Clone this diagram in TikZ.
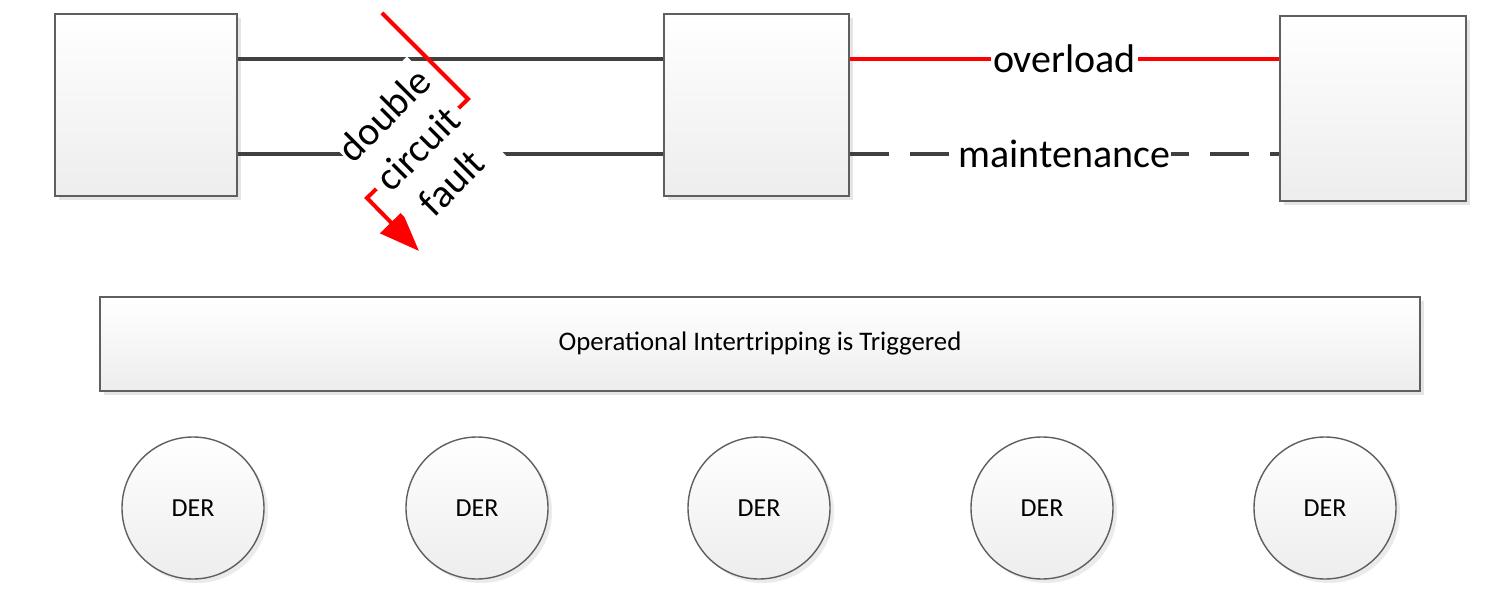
\documentclass[tikz,border=0pt]{standalone}
\usepackage{fontspec}
\setmainfont{Carlito}
\usetikzlibrary{arrows.meta,shadows,calc}
\definecolor{edgegray}{HTML}{5F5F5F}
\definecolor{linegray}{HTML}{404040}
\tikzset{
  box/.style={draw=edgegray, line width=1.8pt, top color=white, bottom color=black!7,
    inner sep=0pt, drop shadow={shadow xshift=4pt, shadow yshift=-4pt, opacity=0.25, fill=black!40}},
  der/.style={circle, draw=edgegray, line width=1.4pt, top color=white, bottom color=black!7,
    minimum size=142pt, inner sep=0pt, font=\fontsize{26}{30}\selectfont,
    drop shadow={shadow xshift=4pt, shadow yshift=-4pt, opacity=0.2, fill=black!40}},
  wire/.style={draw=linegray, line width=4pt},
  redwire/.style={draw=red, line width=4pt},
  dashwire/.style={draw=linegray, line width=4pt, dash pattern=on 39pt off 21pt},
  biglbl/.style={fill=white, inner sep=0pt, font=\fontsize{40}{48}\selectfont},
}
\begin{document}
\begin{tikzpicture}[x=1pt,y=-1pt]
\useasboundingbox (0,0) rectangle (1494,601);
% boxes
\node[box, minimum width=182pt, minimum height=182pt] (A) at (146,105) {};
\node[box, minimum width=185pt, minimum height=182pt] (B) at (756.5,105) {};
\node[box, minimum width=186pt, minimum height=185pt] (C) at (1373,108.5) {};
\coordinate (y1) at (0,59);
\coordinate (y2) at (0,154);
% lines
\draw[wire] (A.east |- y1) -- (B.west |- y1);
\draw[wire] (A.east |- y2) -- (B.west |- y2);
\draw[redwire] (B.east |- y1) -- node[biglbl, inner xsep=2pt] (ov) {overload} (C.west |- y1);
\draw[dashwire] (B.east |- y2) -- node[biglbl, inner xsep=1pt] (mt) {maintenance} (C.west |- y2);
% lightning fault
\coordinate (p1) at (382,13);
\coordinate (p2) at (468,99);
\coordinate (p3) at (367,198);
\coordinate (p4) at (419,251);
\draw[draw=red, line width=4pt, line join=miter, -{Triangle[length=40pt,width=30pt]}]
  (p1) -- (p2) -- (p3) -- (p4);
\node[biglbl, rotate=45, align=center, minimum width=115pt, minimum height=145pt]
  (fault) at ($(p2)!0.5!(p3)$) {double\\circuit\\fault};
% trigger box
\node[box, minimum width=1320pt, minimum height=94pt, font=\fontsize{26.8}{31}\selectfont]
  (trig) at (760,344) {Operational Intertripping is Triggered};
% DERs
\node[der] (d1) at (193,508) {DER};
\node[der] (d2) at (477,508) {DER};
\node[der] (d3) at (759,508) {DER};
\node[der] (d4) at (1042,508) {DER};
\node[der] (d5) at (1325,508) {DER};
\end{tikzpicture}
\end{document}
